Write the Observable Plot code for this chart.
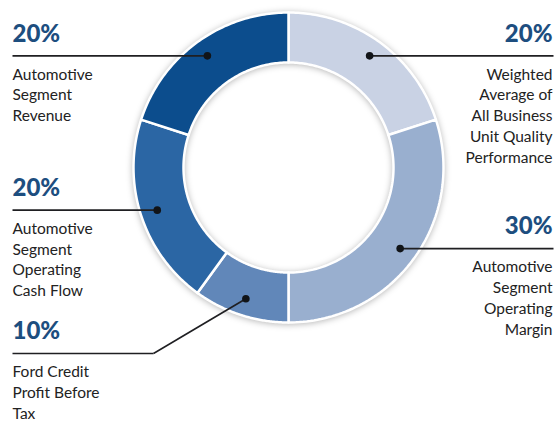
<!DOCTYPE html>
<html>
<head>
<meta charset="utf-8">
<script src="https://cdn.jsdelivr.net/npm/d3@7"></script>
<script src="https://cdn.jsdelivr.net/npm/@observablehq/plot@0.6"></script>
<style>
  html, body { margin: 0; padding: 0; background: #fff; }
  #chart svg g[aria-label="line"] { filter: drop-shadow(0px 1px 3px rgba(0,0,0,0.28)); }
</style>
</head>
<body>
<div id="chart"></div>
<script>
// ---- data ----
const categories = [
  "Weighted Average of All Business Unit Quality Performance",
  "Automotive Segment Operating Margin",
  "Ford Credit Profit Before Tax",
  "Automotive Segment Operating Cash Flow",
  "Automotive Segment Revenue"
];
const values = [20, 30, 10, 20, 20];
const percentLabels = ["20%", "30%", "10%", "20%", "20%"];
const labelLines = [
  ["Weighted", "Average of", "All Business", "Unit Quality", "Performance"],
  ["Automotive", "Segment", "Operating", "Margin"],
  ["Ford Credit", "Profit Before", "Tax"],
  ["Automotive", "Segment", "Operating", "Cash Flow"],
  ["Automotive", "Segment", "Revenue"]
];
const colors = ["#c9d2e4", "#99afcf", "#6187b9", "#2b66a4", "#0c4d8d"];
const sides = ["right", "right", "left", "left", "left"];

// ---- layout ----
const W = 555, H = 422;
const CX = 288, CY = 167, R_OUT = 155, R_IN = 105, R_DOT = 138;
const LEFT_X = 12, RIGHT_X = 553, ELBOW_X = 153, ELBOW_Y = 353;

const pie = d3.pie().sort(null).value(d => d.value);
const arcs = pie(categories.map((c, i) => ({name: c, value: values[i], i})));

const pt = (r, a) => [CX + r * Math.sin(a), CY - r * Math.cos(a)];

// slice polygons
const poly = [];
arcs.forEach(a => {
  const n = 80;
  const ring = [];
  for (let k = 0; k <= n; k++) ring.push(pt(R_OUT, a.startAngle + (a.endAngle - a.startAngle) * k / n));
  for (let k = n; k >= 0; k--) ring.push(pt(R_IN, a.startAngle + (a.endAngle - a.startAngle) * k / n));
  ring.push(ring[0]);
  ring.forEach(([x, y]) => poly.push({name: a.data.name, x, y}));
});

// dots, leader segments, texts
const dots = [], segs = [], pcts = [], labels = [];
arcs.forEach((a, i) => {
  const mid = (a.startAngle + a.endAngle) / 2;
  const [dx, dy] = pt(R_DOT, mid);
  dots.push({x: dx, y: dy});
  let lineY;
  if (i === 2) {
    lineY = ELBOW_Y;
    segs.push({x1: dx, y1: dy, x2: ELBOW_X, y2: ELBOW_Y});
    segs.push({x1: ELBOW_X, y1: ELBOW_Y, x2: LEFT_X, y2: ELBOW_Y});
  } else {
    lineY = dy;
    segs.push({x1: dx, y1: dy, x2: sides[i] === "left" ? LEFT_X : RIGHT_X, y2: dy});
  }
  const tx = sides[i] === "left" ? LEFT_X : RIGHT_X - 1;
  const anchor = sides[i] === "left" ? "start" : "end";
  pcts.push({x: tx, y: lineY - 22, text: percentLabels[i], anchor});
  labels.push({x: tx, y: lineY + 9, text: labelLines[i].join("\n"), anchor});
});

const chart = Plot.plot({
  width: W,
  height: H,
  margin: 0,
  x: {domain: [0, W], range: [0, W], axis: null},
  y: {domain: [0, H], range: [0, H], axis: null},
  color: {domain: categories, range: colors},
  style: {fontFamily: "Lato, 'Open Sans', sans-serif", background: "#fff"},
  marks: [
    Plot.line(poly, {x: "x", y: "y", z: "name", fill: "name", stroke: "#ffffff", strokeWidth: 2.5, curve: "linear"}),
    Plot.link(segs, {x1: "x1", y1: "y1", x2: "x2", y2: "y2", stroke: "#1f1f22", strokeWidth: 1.6}),
    Plot.dot(dots, {x: "x", y: "y", r: 3.8, fill: "#111418", stroke: "none"}),
    Plot.text(pcts.filter(d => d.anchor === "start"), {x: "x", y: "y", text: "text", textAnchor: "start", fontSize: 24, fontWeight: 900, fill: "#1d4e7f", lineAnchor: "middle"}),
    Plot.text(pcts.filter(d => d.anchor === "end"), {x: "x", y: "y", text: "text", textAnchor: "end", fontSize: 24, fontWeight: 900, fill: "#1d4e7f", lineAnchor: "middle"}),
    Plot.text(labels.filter(d => d.anchor === "start"), {x: "x", y: "y", text: "text", textAnchor: "start", fontSize: 15.5, lineHeight: 1.34, fill: "#222222", lineAnchor: "top"}),
    Plot.text(labels.filter(d => d.anchor === "end"), {x: "x", y: "y", text: "text", textAnchor: "end", fontSize: 15.5, lineHeight: 1.34, fill: "#222222", lineAnchor: "top"})
  ]
});
document.getElementById("chart").appendChild(chart);
</script>
</body>
</html>
